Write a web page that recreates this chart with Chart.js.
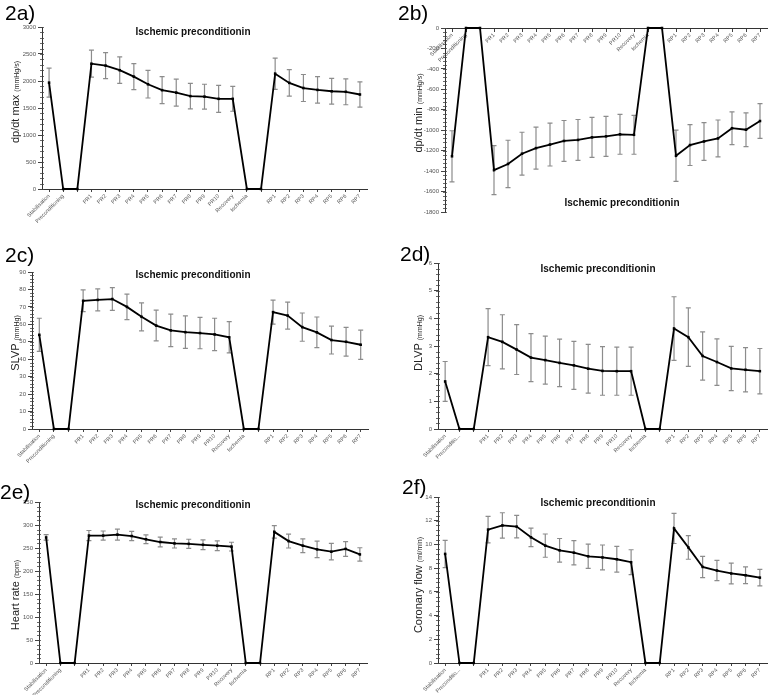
<!DOCTYPE html>
<html><head><meta charset="utf-8">
<script src="https://cdn.jsdelivr.net/npm/chart.js@4/dist/chart.umd.min.js"></script>
<style>
body{margin:0;background:#fff;width:771px;height:695px;position:relative;overflow:hidden;font-family:"Liberation Sans",Arial,sans-serif;}
canvas{position:absolute;}
.pl{position:absolute;font-size:21px;color:#000;line-height:1;}
.tt{position:absolute;font-size:10px;font-weight:bold;color:#111;transform:translate(-50%,-50%);white-space:nowrap;}
.yt{position:absolute;white-space:nowrap;transform:translate(-50%,-50%) rotate(-90deg);font-size:11px;color:#222;}
.yt small{font-size:7px;}
</style></head><body>
<canvas id="ca" width="385" height="235" style="left:0;top:0"></canvas>
<canvas id="cb" width="386" height="235" style="left:385px;top:0"></canvas>
<canvas id="cc" width="385" height="240" style="left:0;top:230px"></canvas>
<canvas id="cd" width="386" height="240" style="left:385px;top:230px"></canvas>
<canvas id="ce" width="385" height="235" style="left:0;top:460px"></canvas>
<canvas id="cf" width="386" height="235" style="left:385px;top:460px"></canvas>

<div class="pl" style="left:5px;top:2px">2a)</div>
<div class="pl" style="left:398px;top:2px">2b)</div>
<div class="pl" style="left:5px;top:244px">2c)</div>
<div class="pl" style="left:400px;top:243px">2d)</div>
<div class="pl" style="left:0px;top:481px">2e)</div>
<div class="pl" style="left:402px;top:476px">2f)</div>

<div class="tt" style="left:193px;top:31px">Ischemic preconditionin</div>
<div class="tt" style="left:622px;top:202px">Ischemic preconditionin</div>
<div class="tt" style="left:193px;top:274px">Ischemic preconditionin</div>
<div class="tt" style="left:598px;top:268px">Ischemic preconditionin</div>
<div class="tt" style="left:193px;top:504px">Ischemic preconditionin</div>
<div class="tt" style="left:598px;top:502px">Ischemic preconditionin</div>

<div class="yt" style="left:15px;top:102px">dp/dt max <small>(mmHg/s)</small></div>
<div class="yt" style="left:418px;top:113px">dp/dt min <small>(mmHg/s)</small></div>
<div class="yt" style="left:15px;top:343px">SLVP <small>(mmHg)</small></div>
<div class="yt" style="left:418px;top:343px">DLVP <small>(mmHg)</small></div>
<div class="yt" style="left:15px;top:595px">Heart rate <small>(bpm)</small></div>
<div class="yt" style="left:418px;top:585px">Coronary flow <small>(ml/min)</small></div>

<script>
const labelsFull = ['Stabilisation','Preconditioning','','PR1','PR2','PR3','PR4','PR5','PR6','PR7','PR8','PR9','PR10','Recovery','Ischemia','','RP1','RP2','RP3','RP4','RP5','RP6','RP7'];
const labelsShort = ['Stabilisation','Preconditio...','','PR1','PR2','PR3','PR4','PR5','PR6','PR7','PR8','PR9','PR10','Recovery','Ischemia','','RP1','RP2','RP3','RP4','RP5','RP6','RP7'];

const dpdtMax    = [1970,0,0,2320,2285,2200,2080,1940,1830,1785,1720,1710,1670,1670,0,0,2135,1965,1870,1835,1810,1800,1750];
const dpdtMaxErr = [270,0,0,250,240,245,240,255,250,250,235,230,250,230,0,0,290,245,250,245,240,240,235];

const dpdtMin    = [-1255,0,0,-1390,-1330,-1230,-1175,-1140,-1105,-1095,-1070,-1060,-1040,-1045,0,0,-1250,-1145,-1110,-1080,-980,-995,-910];
const dpdtMinErr = [250,0,0,240,232,210,205,210,200,200,195,195,195,190,0,0,250,200,185,180,160,165,170];

const slvp    = [54,0,0,73.5,74,74.5,70,64.3,59.3,56.5,55.5,55,54.2,52.6,0,0,67,65,58.4,55.4,51,50,48.3];
const slvpErr = [9.5,0,0,6.2,6.3,6.5,7.3,8,8.8,9.3,9.3,9,9.3,9,0,0,6.9,7.7,8.1,8.8,8,8.2,8.4];

const dlvp    = [1.72,0,0,3.32,3.15,2.87,2.58,2.49,2.39,2.30,2.18,2.10,2.09,2.09,0,0,3.63,3.32,2.64,2.42,2.19,2.14,2.09];
const dlvpErr = [0.72,0,0,1.03,0.98,0.9,0.87,0.87,0.86,0.87,0.88,0.88,0.87,0.87,0,0,1.15,1.06,0.87,0.84,0.8,0.8,0.82];

const heartRate    = [273,0,0,277,277,279,276,269,263,260,259,257,255,253,0,0,285,265,255,247,242,248,236];
const heartRateErr = [6,0,0,11,10,12,10,9.5,10.5,10,10,10.5,10.5,9.5,0,0,13.5,15,15,18,18,16,14.5];

const coronaryFlow    = [9.2,0,0,11.25,11.6,11.5,10.6,9.9,9.5,9.3,9.0,8.9,8.75,8.5,0,0,11.35,9.75,8.1,7.8,7.55,7.4,7.2];
const coronaryFlowErr = [1.15,0,0,1.12,1.07,0.95,0.78,0.98,1.0,1.02,1.02,1.05,1.08,1.05,0,0,1.27,1.0,0.9,0.85,0.87,0.7,0.7];

const errorBars = {
  id:'errorBars',
  beforeDatasetsDraw(chart){
    const ctx = chart.ctx, xs = chart.scales.x, ys = chart.scales.y;
    chart.data.datasets.forEach(ds => {
      if (!ds.err) return;
      ctx.save();
      ctx.strokeStyle = '#8c8c8c'; ctx.lineWidth = 1.2;
      ds.data.forEach((v,i) => {
        const e = ds.err[i]; if (!e) return;
        const x = xs.getPixelForValue(i);
        const y1 = ys.getPixelForValue(v+e), y2 = ys.getPixelForValue(v-e);
        ctx.beginPath();
        ctx.moveTo(x,y1); ctx.lineTo(x,y2);
        ctx.moveTo(x-2.5,y1); ctx.lineTo(x+2.5,y1);
        ctx.moveTo(x-2.5,y2); ctx.lineTo(x+2.5,y2);
        ctx.stroke();
      });
      ctx.restore();
    });
  }
};
const minorTicks = {
  id:'minorTicks',
  afterDraw(chart){
    const ctx = chart.ctx, ys = chart.scales.y, t = ys.ticks;
    if (t.length < 2) return;
    const step = (t[1].value - t[0].value)/5;
    const x = chart.chartArea.left;
    ctx.save(); ctx.strokeStyle = '#444'; ctx.lineWidth = 0.8;
    ctx.beginPath();
    for (let v = ys.min; v <= ys.max + 1e-9; v += step) {
      const y = Math.round(ys.getPixelForValue(v)) + 0.5;
      ctx.moveTo(x-2,y); ctx.lineTo(x+2,y);
    }
    ctx.stroke(); ctx.restore();
  }
};

function makePanel(id, cfg){
  const xScale = {
    type:'category', offset:true,
    grid:{display:true, drawOnChartArea:false, offset:false, tickLength:3, color:'#444'},
    border:{display:true, color:'#333', width:1},
    ticks:{autoSkip:false, minRotation:45, maxRotation:45, padding:1, color:'#555',
           font:{family:'Liberation Sans', size:5.5}}
  };
  if (cfg.topAxis) { xScale.position = {y:0}; }
  else { xScale.position = 'bottom'; xScale.afterFit = s => { s.height = cfg.xH; }; }
  new Chart(document.getElementById(id), {
    type:'line',
    data:{ labels: cfg.labels, datasets:[{
      data: cfg.data, err: cfg.err,
      borderColor:'#000', borderWidth:1.8, tension:0,
      pointStyle:'rect', pointRadius:1.8, pointBackgroundColor:'#000', pointBorderColor:'#000', pointBorderWidth:0,
      clip:false
    }]},
    options:{
      responsive:false, animation:false, devicePixelRatio:1,
      layout:{padding:{left:0, top:cfg.pt, right:cfg.pr, bottom:cfg.pb||0}},
      plugins:{legend:{display:false}, title:{display:false}, tooltip:{enabled:false}},
      scales:{
        x: xScale,
        y:{ position:'left', min:cfg.min, max:cfg.max,
            afterFit: s => { s.width = cfg.yW; },
            grid:{display:true, drawOnChartArea:false, tickLength:4, color:'#444'},
            border:{display:true, color:'#333', width:1},
            ticks:{stepSize:cfg.step, padding:2, color:'#555', font:{family:'Liberation Sans', size:6},
                   callback: v => String(v)}
        }
      }
    },
    plugins:[errorBars, minorTicks]
  });
}

makePanel('ca', {labels:labelsFull, data:dpdtMax, err:dpdtMaxErr, min:0, max:3000, step:500, yW:42, pt:27, pr:18, xH:46});
makePanel('cb', {labels:labelsFull, data:dpdtMin, err:dpdtMinErr, min:-1800, max:0, step:200, yW:60, pt:28, pr:1, pb:23, topAxis:true});
makePanel('cc', {labels:labelsFull, data:slvp, err:slvpErr, min:0, max:90, step:10, yW:32, pt:42, pr:17, xH:41});
makePanel('cd', {labels:labelsShort, data:dlvp, err:dlvpErr, min:0, max:6, step:1, yW:53, pt:33, pr:1, xH:41});
makePanel('ce', {labels:labelsFull, data:heartRate, err:heartRateErr, min:0, max:350, step:50, yW:39, pt:42, pr:18, xH:32});
makePanel('cf', {labels:labelsShort, data:coronaryFlow, err:coronaryFlowErr, min:0, max:14, step:2, yW:53, pt:37, pr:1, xH:32});
</script>
</body></html>
